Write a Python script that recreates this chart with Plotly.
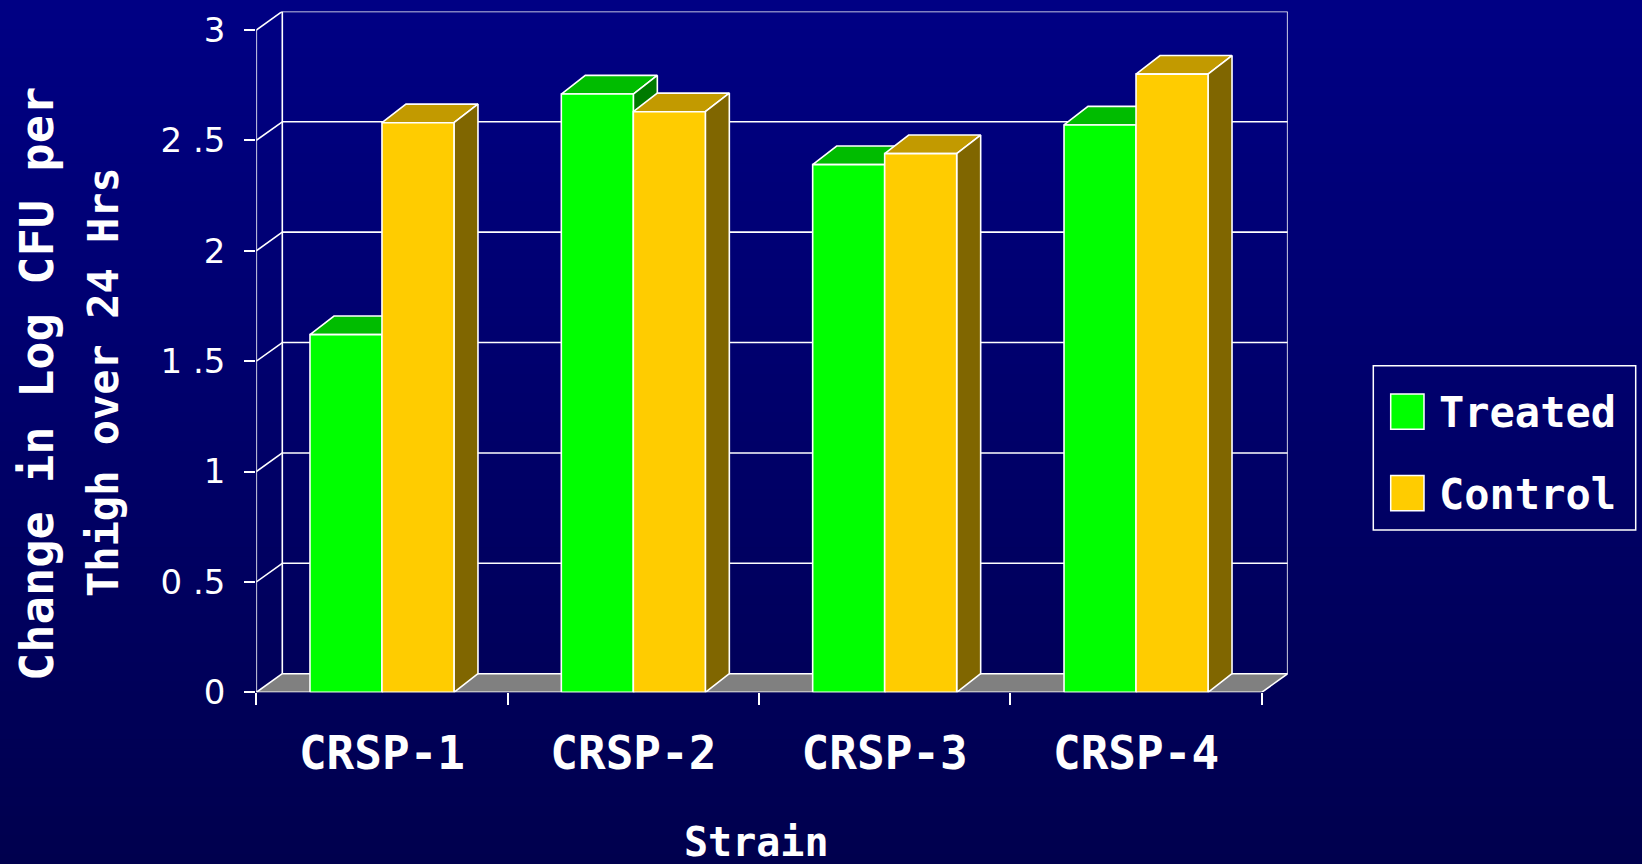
import plotly.graph_objects as go

# ---- data ----
strains = ["CRSP-1", "CRSP-2", "CRSP-3", "CRSP-4"]
treated = [1.62, 2.71, 2.39, 2.57]
control = [2.58, 2.63, 2.44, 2.80]
y_ticks = [0, 0.5, 1, 1.5, 2, 2.5, 3]
y_tick_text = ["0", "0 .5", "1", "1 .5", "2", "2 .5", "3"]

# ---- geometry (pixels) ----
W, H = 1642, 864
FX0, FX1 = 256.3, 1261.7      # front axis, left / right end
FY0, FY3 = 692.3, 30.0        # rows of value 0 and value 3 on the front plane
PX_X = (FX1 - FX0) / 4.0      # pixels per category
PX_Y = (FY0 - FY3) / 3.0      # pixels per unit
WALL_DX = 26.0 / PX_X         # depth of the chart box, in axis units
BAR_DX = 24.0 / PX_X          # depth of a bar
D_Y = 18.6 / PX_Y             # vertical lift of the depth direction
BAR_W = 72.0 / PX_X           # bar width

X_RANGE = [-0.5, 3.5 + WALL_DX]
Y_RANGE = [0, 3 + D_Y]

GREEN = dict(front="#00FF00", top="#00BC00", side="#007A00")
GOLD = dict(front="#FFCC00", top="#C29A00", side="#806600")
WHITE = "#FFFFFF"
LW = 1.6

TXT_FONT = "DejaVu Sans Mono"


def px_x(p):
    return p / W


def px_y(p):
    return 1 - p / H


fig = go.Figure()


def poly(xs, ys, fill, line=WHITE, width=LW):
    fig.add_trace(go.Scatter(
        x=xs, y=ys, mode="lines", fill="toself", fillcolor=fill,
        line=dict(color=line, width=width), hoverinfo="skip", showlegend=False))


def lines(xs, ys, width=LW):
    fig.add_trace(go.Scatter(
        x=xs, y=ys, mode="lines", line=dict(color=WHITE, width=width),
        hoverinfo="skip", showlegend=False))


# floor
x_lo, x_hi = -0.5, 3.5
poly([x_lo, x_hi, x_hi + WALL_DX, x_lo + WALL_DX, x_lo],
     [0, 0, D_Y, D_Y, 0], "#808080", line="rgba(0,0,0,0)", width=0)

# back-wall gridlines and the slanted lines joining them to the front ticks
gx, gy, sx, sy = [], [], [], []
for v in y_ticks:
    gx += [x_lo + WALL_DX, x_hi + WALL_DX, None]
    gy += [v + D_Y, v + D_Y, None]
    sx += [x_lo, x_lo + WALL_DX, None]
    sy += [v, v + D_Y, None]
lines(gx, gy)
lines(sx, sy)

# wall verticals, floor right edge, front axes
lines([x_lo + WALL_DX, x_lo + WALL_DX, None, x_hi + WALL_DX, x_hi + WALL_DX, None,
       x_hi, x_hi + WALL_DX],
      [D_Y, 3 + D_Y, None, D_Y, 3 + D_Y, None, 0, D_Y])
lines([x_lo, x_lo, None, x_lo, x_hi], [0, 3, None, 0, 0])


def bar3d(xl, v, colors):
    xr = xl + BAR_W
    # top face
    poly([xl, xr, xr + BAR_DX, xl + BAR_DX, xl], [v, v, v + D_Y, v + D_Y, v], colors["top"])
    # right side face
    poly([xr, xr + BAR_DX, xr + BAR_DX, xr, xr], [0, D_Y, v + D_Y, v, 0], colors["side"])
    # front face
    poly([xl, xr, xr, xl, xl], [0, 0, v, v, 0], colors["front"])


for i in range(len(strains)):
    bar3d(i - BAR_W, treated[i], GREEN)
    bar3d(i, control[i], GOLD)

# ---- background gradient ----
shapes = []
N = 90
top_rgb = (0, 0, 132)
bot_rgb = (0, 0, 78)
for k in range(N):
    t = k / (N - 1)
    c = tuple(round(top_rgb[j] + (bot_rgb[j] - top_rgb[j]) * t) for j in range(3))
    y0 = 1 - (k + 1) / N - 0.002
    y1 = 1 - k / N
    if k == N - 1:
        y0 = -0.05
    if k == 0:
        y1 = 1.05
    shapes.append(dict(type="rect", xref="paper", yref="paper", layer="below",
                       x0=-0.05, x1=1.05, y0=y0, y1=y1,
                       fillcolor="rgb(%d,%d,%d)" % c, line=dict(width=0)))

# ---- legend box ----
shapes.append(dict(type="rect", xref="paper", yref="paper",
                   x0=px_x(1373.3), x1=px_x(1635.7), y0=px_y(530), y1=px_y(365.7),
                   line=dict(color=WHITE, width=1.5), fillcolor="rgba(0,0,0,0)"))
legend_items = [("Treated", GREEN["front"], 394.0, 429.3),
                ("Control", GOLD["front"], 475.5, 510.8)]
annotations = []
for name, col, t0, t1 in legend_items:
    shapes.append(dict(type="rect", xref="paper", yref="paper",
                       x0=px_x(1390.7), x1=px_x(1424), y0=px_y(t1), y1=px_y(t0),
                       fillcolor=col, line=dict(color=WHITE, width=1.5)))
    annotations.append(dict(text=name, xref="paper", yref="paper",
                            x=px_x(1437), y=px_y((t0 + t1) / 2 + 1), xanchor="left",
                            yanchor="middle", showarrow=False,
                            font=dict(family=TXT_FONT, size=42, color=WHITE, weight="bold")))

# ---- axis titles ----
annotations.append(dict(text="Change in Log CFU per", xref="paper", yref="paper",
                        x=px_x(36), y=px_y(384), textangle=-90, showarrow=False,
                        xanchor="center", yanchor="middle",
                        font=dict(family=TXT_FONT, size=47, color=WHITE, weight="bold")))
annotations.append(dict(text="Thigh over 24 Hrs", xref="paper", yref="paper",
                        x=px_x(103), y=px_y(382), textangle=-90, showarrow=False,
                        xanchor="center", yanchor="middle",
                        font=dict(family=TXT_FONT, size=42, color=WHITE, weight="bold")))
annotations.append(dict(text="Strain", xref="paper", yref="paper",
                        x=px_x(756), y=px_y(842), showarrow=False,
                        xanchor="center", yanchor="middle",
                        font=dict(family=TXT_FONT, size=40, color=WHITE, weight="bold")))

fig.update_layout(
    width=W, height=H,
    margin=dict(l=0, r=0, t=0, b=0, pad=0, autoexpand=False),
    paper_bgcolor="rgb(%d,%d,%d)" % bot_rgb,
    plot_bgcolor="rgba(0,0,0,0)",
    showlegend=False,
    shapes=shapes,
    annotations=annotations,
    xaxis=dict(
        domain=[px_x(FX0), px_x(FX1 + WALL_DX * PX_X)],
        range=X_RANGE, showgrid=False, zeroline=False, showline=False,
        automargin=False,
        tickvals=list(range(len(strains))), ticktext=strains,
        ticks="", ticklabelstandoff=30,
        tickfont=dict(family=TXT_FONT, size=46, color=WHITE, weight="bold"),
        minor=dict(tickvals=[-0.5, 0.5, 1.5, 2.5, 3.5], ticks="outside",
                   ticklen=12, tickwidth=LW, tickcolor=WHITE, showgrid=False),
        fixedrange=True,
    ),
    yaxis=dict(
        domain=[px_y(FY0), px_y(FY3 - 18.6)],
        range=Y_RANGE, showgrid=False, zeroline=False, showline=False,
        automargin=False,
        tickvals=y_ticks, ticktext=y_tick_text,
        ticks="outside", ticklen=11, tickwidth=LW, tickcolor=WHITE,
        ticklabelstandoff=12,
        tickfont=dict(family="DejaVu Sans", size=34, color=WHITE),
        fixedrange=True,
    ),
)

fig.write_html("out.html")
